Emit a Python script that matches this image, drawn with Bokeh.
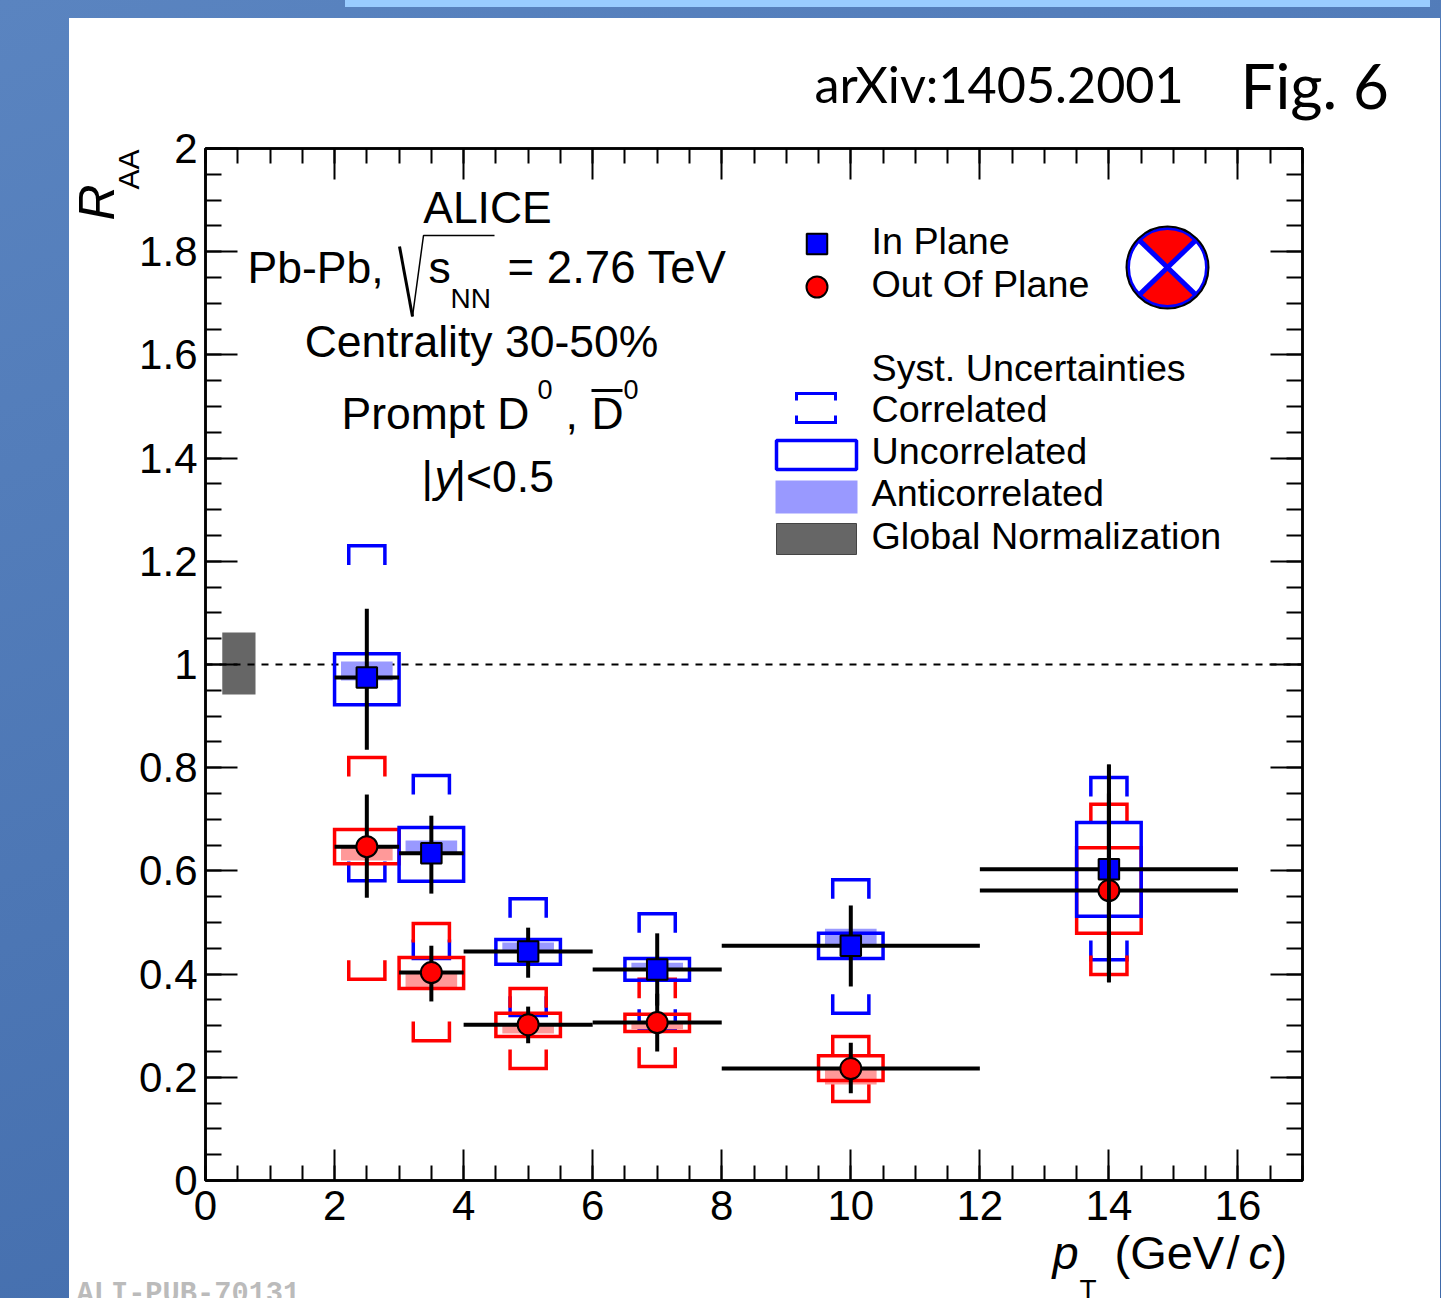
import math
from bokeh.plotting import figure
from bokeh.models import LinearAxis, FixedTicker, Label, Range1d
from bokeh.embed import file_html
from bokeh.resources import INLINE

# ---------- data ----------
pt = [2.5, 3.5, 5, 7, 10, 14]
pt_lo = [2, 3, 4, 6, 8, 12]
pt_hi = [3, 4, 6, 8, 12, 16]

in_val = [0.975, 0.634, 0.444, 0.409, 0.455, 0.603]
in_stat_hi = [1.108, 0.707, 0.490, 0.479, 0.533, 0.806]
in_stat_lo = [0.835, 0.556, 0.393, 0.339, 0.376, 0.400]
in_unc_hi = [1.021, 0.684, 0.467, 0.430, 0.479, 0.694]
in_unc_lo = [0.922, 0.580, 0.419, 0.388, 0.430, 0.512]
in_cor_hi = [1.230, 0.785, 0.546, 0.517, 0.583, 0.781]
in_cor_lo = [0.581, 0.430, 0.320, 0.295, 0.324, 0.428]
in_anti_hi = [1.006, 0.659, 0.461, 0.422, 0.488, 0.603]
in_anti_lo = [0.969, 0.634, 0.444, 0.409, 0.455, 0.603]

out_val = [0.647, 0.403, 0.302, 0.306, 0.217, 0.562]
out_stat_hi = [0.748, 0.455, 0.337, 0.362, 0.267, 0.750]
out_stat_lo = [0.548, 0.347, 0.266, 0.250, 0.169, 0.384]
out_unc_hi = [0.680, 0.432, 0.324, 0.322, 0.242, 0.645]
out_unc_lo = [0.614, 0.372, 0.279, 0.289, 0.194, 0.479]
out_cor_hi = [0.820, 0.498, 0.372, 0.390, 0.279, 0.729]
out_cor_lo = [0.390, 0.271, 0.217, 0.221, 0.153, 0.399]
out_anti_hi = [0.647, 0.403, 0.302, 0.306, 0.217, 0.562]
out_anti_lo = [0.620, 0.375, 0.285, 0.293, 0.186, 0.562]

x_ticks = [0, 2, 4, 6, 8, 10, 12, 14, 16]
x_labels = ["0", "2", "4", "6", "8", "10", "12", "14", "16"]
y_ticks = [0, 0.2, 0.4, 0.6, 0.8, 1.0, 1.2, 1.4, 1.6, 1.8, 2.0]
y_labels = ["0", "0.2", "0.4", "0.6", "0.8", "1", "1.2", "1.4", "1.6", "1.8", "2"]
x_minor = [i * 0.5 for i in range(35)]
y_minor = [i * 0.05 for i in range(41)]

BLUE, RED = "#0000ff", "#ff0000"
BLUE_L, RED_L = "#9999ff", "#ff9999"
GREY = "#666666"
FONT = "Liberation Sans"
FRAME_L, FRAME_R, FRAME_T, FRAME_B = 205, 1302, 148, 1180
W, H = 1441, 1298


def X(px):
    return (px - FRAME_L) / (FRAME_R - FRAME_L) * 17.0


def Y(py):
    return (FRAME_B - py) / (FRAME_B - FRAME_T) * 2.0


page_bg = ("linear-gradient(#ffffff,#ffffff) 69px 18px/1371px 1280px no-repeat,"
           "linear-gradient(#99ccff,#99ccff) 345px 0px/1085px 7px no-repeat,"
           "linear-gradient(160deg,#5a84c0,#3f69a9)")

p = figure(width=W, height=H, output_backend="svg", toolbar_location=None,
           x_axis_type=None, y_axis_type=None,
           x_range=Range1d(0, 17), y_range=Range1d(0, 2),
           min_border_left=FRAME_L, min_border_right=W - FRAME_R,
           min_border_top=FRAME_T, min_border_bottom=H - FRAME_B,
           background_fill_color="white", border_fill_alpha=0,
           outline_line_color="black", outline_line_width=2.5,
           styles={"position": "fixed", "left": "0px", "top": "0px", "background": page_bg})
p.grid.visible = False


def make_axis(ticks, minor, labels, tick_len, minor_len, show):
    ax = LinearAxis(ticker=FixedTicker(ticks=ticks, minor_ticks=minor),
                    major_tick_in=tick_len, major_tick_out=0, minor_tick_in=minor_len, minor_tick_out=0,
                    major_tick_line_width=2, minor_tick_line_width=2, major_tick_line_color="black",
                    minor_tick_line_color="black", axis_line_color="black", axis_line_width=2.5,
                    major_label_text_font=FONT, major_label_text_font_size="42px",
                    major_label_text_color="black",
                    major_label_overrides={t: (l if show else "") for t, l in zip(ticks, labels)})
    return ax


bottom = make_axis(x_ticks, x_minor, x_labels, 31, 15, True)
bottom.major_label_standoff = 10
left = make_axis(y_ticks, y_minor, y_labels, 32, 16, True)
left.major_label_standoff = 8
p.add_layout(bottom, "below")
p.add_layout(left, "left")
p.add_layout(make_axis(x_ticks, x_minor, x_labels, 31, 15, False), "above")
p.add_layout(make_axis(y_ticks, y_minor, y_labels, 32, 16, False), "right")

# global normalization and unity line
p.quad(left=[0.26], right=[0.775], top=[1.062], bottom=[0.942], fill_color=GREY, line_color=None)
p.line([0, 17], [1, 1], line_color="black", line_width=2, line_dash="7 7")

HALF_COR, LEG = 0.28, 0.037


def bracket_paths(xs, hi, lo):
    xx, yy = [], []
    for x, h, l in zip(xs, hi, lo):
        xx += [[x - HALF_COR, x - HALF_COR, x + HALF_COR, x + HALF_COR]] * 2
        yy += [[h - LEG, h, h, h - LEG], [l + LEG, l, l, l + LEG]]
    return xx, yy


for hi, lo, col in ((in_cor_hi, in_cor_lo, BLUE), (out_cor_hi, out_cor_lo, RED)):
    xx, yy = bracket_paths(pt, hi, lo)
    p.multi_line(xx, yy, line_color=col, line_width=3.5, line_join="miter")

for hi, lo, col in ((in_anti_hi, in_anti_lo, BLUE_L), (out_anti_hi, out_anti_lo, RED_L)):
    p.quad(left=[x - 0.4 for x in pt], right=[x + 0.4 for x in pt], top=hi, bottom=lo,
           fill_color=col, line_color=None)

for hi, lo, col in ((out_unc_hi, out_unc_lo, RED), (in_unc_hi, in_unc_lo, BLUE)):
    p.quad(left=[x - 0.5 for x in pt], right=[x + 0.5 for x in pt], top=hi, bottom=lo,
           fill_color=None, line_color=col, line_width=3.5, line_join="miter")

for val, hi, lo in ((out_val, out_stat_hi, out_stat_lo), (in_val, in_stat_hi, in_stat_lo)):
    p.segment(pt, lo, pt, hi, line_color="black", line_width=4)
    p.segment(pt_lo, val, pt_hi, val, line_color="black", line_width=4)

p.scatter(pt, out_val, marker="circle", size=21, fill_color=RED, line_color="black", line_width=2)
p.scatter(pt, in_val, marker="square", size=20.5, fill_color=BLUE, line_color="black", line_width=2)
# at the last point the vertical error bars run over both markers
p.segment(pt[-1:], out_stat_lo[-1:], pt[-1:], out_stat_hi[-1:], line_color="black", line_width=3.5)
p.segment(pt[-1:], in_stat_lo[-1:], pt[-1:], in_stat_hi[-1:], line_color="black", line_width=3.5)

# legend symbols
p.scatter([X(816.5)], [Y(243.5)], marker="square", size=20.5, fill_color=BLUE, line_color="black", line_width=2)
p.scatter([X(816.5)], [Y(286.5)], marker="circle", size=21, fill_color=RED, line_color="black", line_width=2)
lx0, lx1 = X(796), X(835)
p.multi_line([[lx0, lx0, lx1, lx1]] * 2,
             [[Y(400), Y(393), Y(393), Y(400)], [Y(415), Y(422), Y(422), Y(415)]],
             line_color=BLUE, line_width=3, line_join="miter")
p.quad(left=[X(776)], right=[X(856)], top=[Y(440)], bottom=[Y(469)], fill_color=None,
       line_color=BLUE, line_width=3.5)
p.quad(left=[X(775)], right=[X(857)], top=[Y(480)], bottom=[Y(513)], fill_color=BLUE_L, line_color=None)
p.quad(left=[X(776)], right=[X(856)], top=[Y(523)], bottom=[Y(554)], fill_color=GREY,
       line_color="#444444", line_width=1)

# reaction plane icon
cx, cy = X(1167), Y(267)
ang = math.radians(44)
p.wedge([cx], [cy], radius=40, radius_units="screen", start_angle=ang, end_angle=math.pi - ang,
        fill_color=RED, line_color=None)
p.wedge([cx], [cy], radius=40, radius_units="screen", start_angle=math.pi + ang, end_angle=2 * math.pi - ang,
        fill_color=RED, line_color=None)
for a in (ang, math.pi - ang, math.pi + ang, 2 * math.pi - ang):
    p.ray([cx], [cy], length=39, length_units="screen", angle=a, line_color=BLUE, line_width=5)
p.scatter([cx], [cy], marker="circle", size=78, fill_color=None, line_color=BLUE, line_width=3)
p.scatter([cx], [cy], marker="circle", size=82, fill_color=None, line_color="black", line_width=2)

# radical sign and overbar
p.line([X(412), X(423), X(494)], [Y(316), Y(235), Y(235)], line_color="black", line_width=1.5)
p.line([X(399), X(412)], [Y(246), Y(316)], line_color="black", line_width=3)
p.line([X(591), X(622)], [Y(390), Y(390)], line_color="black", line_width=3)

BASE_SHIFT = 0.33

# A transparent figure over the whole page carries the text, so that the
# texts outside the plot frame are not cut off at the frame's edge.
q = figure(width=W, height=H, output_backend="svg", toolbar_location=None,
           x_axis_type=None, y_axis_type=None,
           x_range=Range1d(0, W), y_range=Range1d(H, 0),
           min_border=0, background_fill_alpha=0, border_fill_alpha=0, outline_line_color=None,
           styles={"position": "fixed", "left": "0px", "top": "0px"})
q.grid.visible = False


def text(s, px, py, size, align="left", font=FONT, style="normal", angle=0, color="black"):
    if angle:
        px -= BASE_SHIFT * size
    else:
        py -= BASE_SHIFT * size
    q.add_layout(Label(x=px, y=py, text=s, text_font=font,
                       text_font_size=f"{size}px",
                       text_font_style=style, text_align=align, text_baseline="alphabetic",
                       angle=angle, text_color=color))


text("arXiv:1405.2001", 814, 100, 50.3, font="Lato")
text("Fig. 6", 1240, 105, 62, font="Lato")
text("ALICE", 487, 222, 44.5, "center")
text("Pb-Pb,", 247, 282, 44.5)
text("s", 428, 282, 44.5)
text("NN", 450, 307, 28)
text("= 2.76 TeV", 507, 282, 45.6)
text("Centrality 30-50%", 481, 356, 44.5, "center")
text("Prompt D", 341, 428, 44.5)
text("0", 537, 398, 27)
text(",", 565, 428, 44.5)
text("D", 591, 428, 44.5)
text("0", 623, 398, 27)
text("|", 421, 491, 44.5)
text("y", 434, 491, 44.5, style="italic")
text("|<0.5", 454, 491, 44.5)
text("In Plane", 871, 253, 37.7)
text("Out Of Plane", 871, 296, 37.7)
text("Syst. Uncertainties", 871, 380, 37.7)
text("Correlated", 871, 421, 37.7)
text("Uncorrelated", 871, 463, 37.7)
text("Anticorrelated", 871, 505, 37.7)
text("Global Normalization", 871, 548, 37.7)
text("R", 113, 220, 50, style="italic", angle=math.pi / 2)
text("AA", 138, 189, 30, angle=math.pi / 2)
text("p", 1052, 1268, 47, style="italic")
text("T", 1079, 1298, 28)
text("(GeV", 1114, 1268, 47)
text("/", 1226, 1268, 47)
text("c", 1248, 1268, 47, style="italic")
text(")", 1271, 1268, 47)
text("ALI-PUB-70131", 76, 1303, 28.7, font="Liberation Mono", style="bold", color="#bbbbbb")

open("out.html", "w").write(file_html([p, q], INLINE))
